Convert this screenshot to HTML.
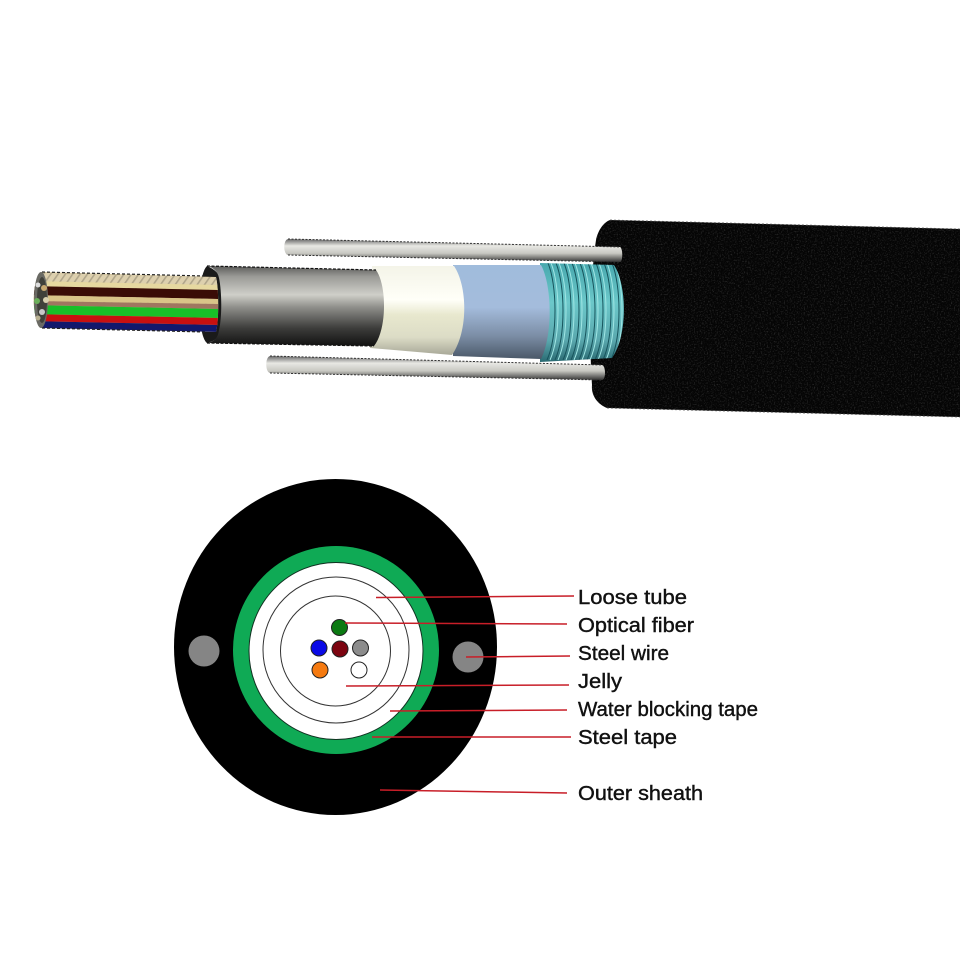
<!DOCTYPE html>
<html><head><meta charset="utf-8"><style>
html,body{margin:0;padding:0;background:#fff}
svg{display:block;filter:blur(.35px)}
text{font-family:"Liberation Sans",Arial,sans-serif;font-size:20px;fill:#111;stroke:#111;stroke-width:.4px}
</style></head><body>
<svg width="960" height="960" viewBox="0 0 960 960" xmlns="http://www.w3.org/2000/svg">
<defs>
<linearGradient id="gray" x1="0" y1="0" x2="0" y2="1"><stop offset="0" stop-color="#5a5a58"/><stop offset=".13" stop-color="#9a9a96"/><stop offset=".36" stop-color="#cfcfc9"/><stop offset=".52" stop-color="#8d8d89"/><stop offset=".78" stop-color="#3c3c3a"/><stop offset="1" stop-color="#111"/></linearGradient>
<linearGradient id="white" x1="0" y1="0" x2="0" y2="1"><stop offset="0" stop-color="#f4f4e8"/><stop offset=".38" stop-color="#fffff8"/><stop offset=".55" stop-color="#e8e8ce"/><stop offset=".8" stop-color="#dcdcc6"/><stop offset="1" stop-color="#a8a898"/></linearGradient>
<linearGradient id="blue" x1="0" y1="0" x2="0" y2="1"><stop offset="0" stop-color="#a0bcdc"/><stop offset=".45" stop-color="#a4bcdc"/><stop offset=".75" stop-color="#7c8ea6"/><stop offset="1" stop-color="#4a5868"/></linearGradient>
<linearGradient id="teal" x1="0" y1="0" x2="0" y2="1"><stop offset="0" stop-color="#48a8ae"/><stop offset=".4" stop-color="#6cc8ca"/><stop offset=".78" stop-color="#5aa8ae"/><stop offset="1" stop-color="#2a6a72"/></linearGradient>
<linearGradient id="rod" x1="0" y1="0" x2="0" y2="1"><stop offset="0" stop-color="#666"/><stop offset=".3" stop-color="#e8e8e4"/><stop offset=".62" stop-color="#c8c8c2"/><stop offset="1" stop-color="#333"/></linearGradient>
<pattern id="hatch" width="6" height="6" patternUnits="userSpaceOnUse" patternTransform="rotate(35)"><rect width="1.6" height="6" fill="#000" opacity=".2"/></pattern>
<filter id="grain" x="0" y="0" width="100%" height="100%"><feTurbulence type="fractalNoise" baseFrequency=".7" numOctaves="2" seed="4"/><feColorMatrix values="0 0 0 0 .12  0 0 0 0 .12  0 0 0 0 .12  1.2 0 0 0 -.6"/></filter>
<clipPath id="sheathClip"><path d="M610 220L960 229V417L607 408C597 404 591 395 592 385C589 340 590 280 596 240C598 230 604 222 610 220Z"/></clipPath>
<path id="wrap" d="M0 263C9 285 10 335 -1 360" fill="none" stroke="#17545c" stroke-width="1"/>
<path id="wrapL" d="M3 263C12 285 13 335 2 360" fill="none" stroke="#a0e6e4" stroke-width="1"/>
<clipPath id="tealClip"><path d="M540 263L614 265C627 285 628 335 612 358L540 362Z"/></clipPath>
<clipPath id="fibClip"><path d="M42 272L216 277C219 290 219 320 216 332L42 328C31 322 31 278 42 272Z"/></clipPath>
</defs>

<!-- Outer sheath -->
<path d="M610 220L960 229V417L607 408C597 404 591 395 592 385C589 340 590 280 596 240C598 230 604 222 610 220Z" fill="#050505"/>
<g clip-path="url(#sheathClip)"><rect x="585" y="215" width="375" height="205" filter="url(#grain)"/></g>
<path d="M610 220L960 229M607 408L960 417" stroke="#555" stroke-width=".8" stroke-dasharray="2 2" fill="none"/>

<!-- Armor -->
<path d="M540 263L614 265C627 285 628 335 612 358L540 362Z" fill="url(#teal)"/>
<g clip-path="url(#tealClip)">
<use href="#wrap" x="548"/><use href="#wrapL" x="548"/>
<use href="#wrap" x="556"/><use href="#wrapL" x="556"/>
<use href="#wrap" x="564"/><use href="#wrapL" x="564"/>
<use href="#wrap" x="572"/><use href="#wrapL" x="572"/>
<use href="#wrap" x="580"/><use href="#wrapL" x="580"/>
<use href="#wrap" x="588"/><use href="#wrapL" x="588"/>
<use href="#wrap" x="596"/><use href="#wrapL" x="596"/>
<use href="#wrap" x="604"/><use href="#wrapL" x="604"/>
<use href="#wrap" x="612"/><use href="#wrapL" x="612"/>
</g>

<!-- Blue tape -->
<path d="M453 265L541 265C552 285 553 335 541 359L453 356Z" fill="url(#blue)"/>
<!-- Cream tape -->
<path d="M372 266L454 266C467 285 469 330 452 355L370 348Z" fill="url(#white)"/>

<!-- Gray tube cavity behind fibers -->
<path d="M207 266C197 275 197 335 207 343C222 340 226 325 224 305C226 285 222 272 207 266Z" fill="#1a1a1a"/>

<!-- Fibers -->
<g clip-path="url(#fibClip)">
<rect x="30" y="270" width="190" height="65" fill="#d8c89e"/>
<path d="M30 272.5L218 277.5V285L30 281Z" fill="#ddd0ae"/>
<rect x="30" y="270" width="190" height="34" fill="url(#hatch)"/>
<path d="M30 281L218 285V290L30 286Z" fill="#e6d8a0"/>
<path d="M30 286L218 290V299L30 295Z" fill="#3a0c06"/>
<path d="M30 295L218 299V304L30 301Z" fill="#d9c488"/>
<path d="M30 301L218 304V309L30 305Z" fill="#a07660"/>
<path d="M30 305L218 309V318L30 314Z" fill="#18c028"/>
<path d="M30 314L218 318V325L30 321Z" fill="#c81010"/>
<path d="M30 321L218 325V332L30 328Z" fill="#12186c"/>
</g>
<path d="M42 272L205 276M42 328L205 332" stroke="#222" stroke-width="1.2" stroke-dasharray="3 2" fill="none"/>
<ellipse cx="41" cy="300" rx="7" ry="28" fill="#6a6a64"/>
<ellipse cx="42" cy="300" rx="5" ry="23" fill="#40403a"/>
<circle cx="37" cy="301" r="3" fill="#6bb05a"/>
<circle cx="44" cy="288" r="3" fill="#c9a870"/>
<circle cx="42" cy="312" r="3" fill="#c8c8c8"/>
<circle cx="46" cy="300" r="3" fill="#d8d0b0"/>
<circle cx="38" cy="285" r="2.5" fill="#ddd"/>
<circle cx="38" cy="318" r="2.5" fill="#b8b090"/>

<!-- Gray tube -->
<path d="M207 266L376 270C387 285 387 330 374 346L207 343C214 342 218 338 219 330C222 318 222 292 219 278C218 272 213 267 207 266Z" fill="url(#gray)"/>
<path d="M207 266L376 270M207 343L374 346" stroke="#111" stroke-width="1.2" stroke-dasharray="3 1.5" fill="none"/>

<!-- Rods -->
<path d="M288 239L620 247C623 248 623 262 620 262L288 255C283 254 283 240 288 239Z" fill="url(#rod)"/>
<path d="M288 239L620 247M288 255L620 262" stroke="#333" stroke-width="1" stroke-dasharray="2 1.5" fill="none"/>
<path d="M270 356L602 365C606 366 606 380 602 380L270 373C265 372 265 357 270 356Z" fill="url(#rod)"/>
<path d="M270 356L602 365M270 373L602 380" stroke="#333" stroke-width="1" stroke-dasharray="2 1.5" fill="none"/>

<!-- Cross section -->
<ellipse cx="335.5" cy="647" rx="161.5" ry="168" fill="#000"/>
<circle cx="204" cy="651" r="15.5" fill="#858585"/>
<circle cx="468" cy="657" r="15.5" fill="#858585"/>
<ellipse cx="336" cy="650" rx="103" ry="104" fill="#0faa55"/>
<ellipse cx="336" cy="651" rx="87" ry="88.5" fill="#fff" stroke="#103020" stroke-width="1"/>
<circle cx="336" cy="650" r="73" fill="none" stroke="#333" stroke-width="1"/>
<circle cx="335.5" cy="651" r="55" fill="none" stroke="#333" stroke-width="1"/>
<g stroke="#222" stroke-width="1">
<circle cx="339.5" cy="627.5" r="8" fill="#0b7a12"/>
<circle cx="319" cy="648" r="8" fill="#0a0ae6"/>
<circle cx="340" cy="649" r="8" fill="#7c0410"/>
<circle cx="360.5" cy="648" r="8" fill="#8c8c8c"/>
<circle cx="320" cy="670" r="8" fill="#f57a10"/>
<circle cx="359" cy="670" r="8" fill="#fff"/>
</g>

<!-- Leaders -->
<g stroke="#c81e28" stroke-width="1.5" fill="none">
<path d="M376 597.5L574 596"/>
<path d="M345 623L567 624"/>
<path d="M466 657L570 656"/>
<path d="M346 686L569 685"/>
<path d="M390 711L567 710"/>
<path d="M372 737L571 737"/>
<path d="M380 790L567 793"/>
</g>

<!-- Labels -->
<text x="578" y="604" textLength="109" lengthAdjust="spacingAndGlyphs">Loose tube</text>
<text x="578" y="632" textLength="116" lengthAdjust="spacingAndGlyphs">Optical fiber</text>
<text x="578" y="660" textLength="91" lengthAdjust="spacingAndGlyphs">Steel wire</text>
<text x="578" y="688" textLength="44" lengthAdjust="spacingAndGlyphs">Jelly</text>
<text x="578" y="716" textLength="180" lengthAdjust="spacingAndGlyphs">Water blocking tape</text>
<text x="578" y="744" textLength="99" lengthAdjust="spacingAndGlyphs">Steel tape</text>
<text x="578" y="800" textLength="125" lengthAdjust="spacingAndGlyphs">Outer sheath</text>
</svg>
</body></html>
